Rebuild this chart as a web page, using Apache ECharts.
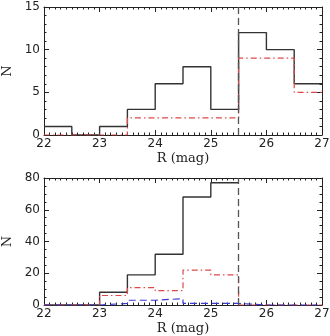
<!DOCTYPE html>
<html>
<head>
<meta charset="utf-8">
<script src="https://cdn.jsdelivr.net/npm/echarts@6/dist/echarts.min.js"></script>
<style>
  html, body { margin: 0; padding: 0; background: #fff; }
  #chart { width: 330px; height: 336px; }
</style>
</head>
<body>
<div id="chart"></div>
<script>
// bin left edges (last value is the right edge of the last bin)
var binEdges = [22, 22.5, 23, 23.5, 24, 24.5, 25, 25.5, 26, 26.5, 27]
var xTicks = [22, 23, 24, 25, 26, 27]
var cutMag = 25.5

// top panel counts per bin
var topAll = [1, 0, 1, 3, 6, 8, 3, 12, 10, 6]
var topRed = [0, 0, 0, 2, 2, 2, 2, 9, 9, 5]
var topYTicks = [0, 5, 10, 15]

// bottom panel counts per bin (black one stops at the cut)
var botAll = [0, 0, 8, 19, 32, 68, 77]
var botRed = [0, 0, 6, 11, 9, 22, 19, 0, 0, 0]
var botBlue = [0, 0, 1, 3, 4, 1, 1, 0, 0, 0]
var botYTicks = [0, 20, 40, 60, 80]

function steps (counts) {
  var pts = []
  counts.forEach(function (c, i) {
    pts.push([binEdges[i], c])
  })
  pts.push([binEdges[counts.length], counts[counts.length - 1]])
  return pts
}

var labelFont = { color: '#222', fontSize: 12, fontFamily: 'DejaVu Sans' }
var frame = { show: true, onZero: false, lineStyle: { color: '#222', width: 1 } }

function xAxes (gi) {
  var base = {
    type: 'value',
    gridIndex: gi,
    min: xTicks[0],
    max: xTicks[xTicks.length - 1],
    interval: 1,
    axisLine: frame,
    axisTick: { show: true, inside: true, length: 5, lineStyle: { color: '#222' } },
    minorTick: { show: true, splitNumber: 10, length: 2.5, lineStyle: { color: '#222' } },
    splitLine: { show: false }
  }
  return [
    Object.assign({}, base, {
      position: 'bottom',
      axisLabel: Object.assign({ margin: 3 }, labelFont),
      name: 'R (mag)',
      nameLocation: 'middle',
      nameGap: 17,
      nameTextStyle: { color: '#222', fontSize: 13, fontFamily: 'DejaVu Serif' }
    }),
    Object.assign({}, base, { position: 'top', axisLabel: { show: false } })
  ]
}

function yAxes (gi, ticks, minor) {
  var base = {
    type: 'value',
    gridIndex: gi,
    min: ticks[0],
    max: ticks[ticks.length - 1],
    interval: ticks[1] - ticks[0],
    axisLine: frame,
    axisTick: { show: true, inside: true, length: 5, lineStyle: { color: '#222' } },
    minorTick: { show: true, splitNumber: minor, length: 2.5, lineStyle: { color: '#222' } },
    splitLine: { show: false }
  }
  return [
    Object.assign({}, base, {
      position: 'left',
      axisLabel: Object.assign({ margin: 4 }, labelFont),
      name: 'N',
      nameLocation: 'middle',
      nameGap: 24,
      nameTextStyle: { color: '#222', fontSize: 13, fontFamily: 'DejaVu Serif' }
    }),
    Object.assign({}, base, { position: 'right', axisLabel: { show: false } })
  ]
}

function hist (xi, yi, counts, color, type, width) {
  return {
    type: 'line',
    xAxisIndex: xi,
    yAxisIndex: yi,
    step: 'end',
    symbol: 'none',
    silent: true,
    data: steps(counts),
    lineStyle: { color: color, width: width, type: type }
  }
}

function cutLine (xi, yi) {
  return {
    type: 'line',
    xAxisIndex: xi,
    yAxisIndex: yi,
    data: [],
    silent: true,
    markLine: {
      silent: true,
      symbol: 'none',
      label: { show: false },
      lineStyle: { color: '#555', width: 1.3, type: [7, 4] },
      data: [{ xAxis: cutMag }]
    }
  }
}

var chart = echarts.init(document.getElementById('chart'))
chart.setOption({
  animation: false,
  backgroundColor: '#fff',
  grid: [
    { left: 44, right: 8, top: 7, height: 128, containLabel: false, outerBoundsMode: 'none' },
    { left: 44, right: 8, top: 178, height: 127, containLabel: false, outerBoundsMode: 'none' }
  ],
  xAxis: xAxes(0).concat(xAxes(1)),
  yAxis: yAxes(0, topYTicks, 5).concat(yAxes(1, botYTicks, 4)),
  series: [
    hist(0, 0, topAll, '#333', 'solid', 1.4),
    hist(0, 0, topRed, '#e04848', [6, 3, 1.5, 3], 1.2),
    cutLine(0, 0),
    hist(2, 2, botAll, '#333', 'solid', 1.4),
    hist(2, 2, botRed, '#e04848', [6, 3, 1.5, 3], 1.2),
    hist(2, 2, botBlue, '#3a3ad0', [7, 4], 1.2),
    cutLine(2, 2)
  ]
})
window.addEventListener('resize', function () {
  chart.resize()
})
</script>
</body>
</html>
